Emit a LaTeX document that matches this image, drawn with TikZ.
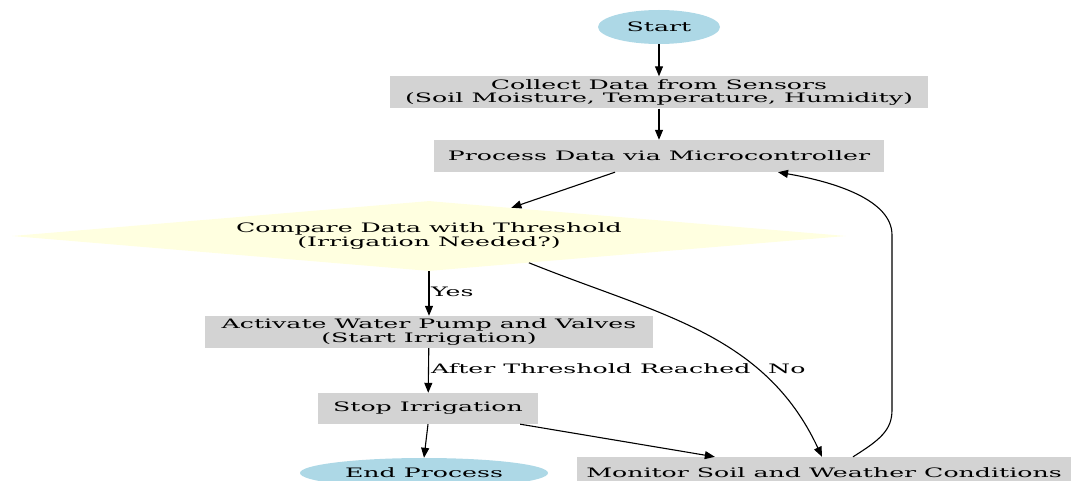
\documentclass[tikz,border=0pt]{standalone}
\usepackage{fontspec}
\setmainfont{DejaVu Serif}[FakeStretch=1.94]
\usetikzlibrary{arrows.meta,shapes.geometric}
\definecolor{gvblue}{HTML}{ADD8E6}
\definecolor{gvgray}{HTML}{D3D3D3}
\definecolor{gvyellow}{HTML}{FFFFE0}
\tikzset{
  box/.style={rectangle,fill=gvgray,inner sep=0pt,align=center},
  oval/.style={ellipse,fill=gvblue,inner sep=0pt},
  decision/.style={diamond,fill=gvyellow,inner sep=0pt,aspect=12,align=center},
  arr/.style={-{Triangle[length=10pt,width=8pt]},line width=1.1pt},
  lbl/.style={anchor=west,inner sep=0pt}
}
\begin{document}
\begin{tikzpicture}[x=1pt,y=1pt,font=\fontsize{13}{12.5}\selectfont]
        \useasboundingbox (0,0) rectangle (1076,-481);
        \node[oval,minimum width=122pt,minimum height=34pt] (start) at (659,-27) {Start};
        \node[box,minimum width=538pt,minimum height=32pt] (collect) at (659,-92.5) {Collect Data from Sensors\\(Soil Moisture, Temperature, Humidity)};
        \node[box,minimum width=450pt,minimum height=32pt] (process) at (659,-156) {Process Data via Microcontroller};
        \node[decision,minimum width=834pt,minimum height=70pt] (compare) at (429,-236) {Compare Data with Threshold\\(Irrigation Needed?)};
        \node[box,minimum width=448pt,minimum height=32pt] (activate) at (429,-332) {Activate Water Pump and Valves\\(Start Irrigation)};
        \node[box,minimum width=220pt,minimum height=31pt] (stop) at (428,-408.5) {Stop Irrigation};
        \node[oval,minimum width=248pt,minimum height=30pt] (endp) at (424,-473) {End Process};
        \node[box,minimum width=494pt,minimum height=32pt] (monitor) at (824,-473) {Monitor Soil and Weather Conditions};
        % edges
        \draw[arr] (start) -- (collect);
        \draw[arr] (collect) -- (process);
        \draw[arr] ([xshift=-44pt]process.south) -- (compare);
        \draw[arr] (compare) -- (activate);
        \node[lbl] (yes) at (431,-292) {Yes};
        \draw[arr] (compare.-15.7) to[out=-22,in=115] ([xshift=-2pt]monitor.north);
        \node[lbl] (no) at (768,-369) {No};
        \draw[arr] (activate) -- (stop);
        \node[lbl] (after) at (431,-369) {After Threshold Reached};
        \draw[arr] (stop.south) -- (endp.north);
        \draw[arr] ([xshift=-18pt]stop.south east) -- ([xshift=138pt]monitor.north west);
        \draw[arr] ([xshift=29pt]monitor.north) .. controls (880,-440) and (892,-430) .. (892,-410)
          -- (892,-235) .. controls (892,-200) and (835,-182) .. ([xshift=119pt]process.south);
      \end{tikzpicture}
\end{document}
